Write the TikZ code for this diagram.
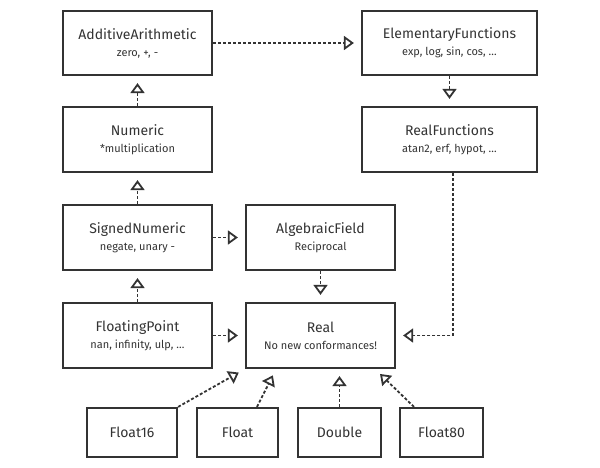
\documentclass[tikz,border=0pt]{standalone}
\usepackage{fontspec}
\setmainfont{Fira Sans}
\usetikzlibrary{arrows.meta}
\definecolor{ink}{HTML}{333333}

\tikzset{
  proto/.style={draw=ink, line width=2.2pt, text=ink, align=center,
    inner sep=0pt, font=\fontsize{14}{17}\selectfont},
  conforms/.style={draw=ink, line width=1.8pt, dash pattern=on 3pt off 2pt,
    -{Triangle[open, length=10pt, width=14pt]}, shorten >=7pt},
}

\newcommand{\subtext}[1]{\\[0pt]{\fontsize{11}{13}\selectfont #1}}

\begin{document}
\begin{tikzpicture}[x=1pt, y=-1pt]
  \useasboundingbox (0, 0) rectangle (600, 468);

  % Left column
  \node [proto, minimum width=149, minimum height=64] (additive) at (137.5, 43)
    {AdditiveArithmetic\subtext{zero, +, -}};
  \node [proto, minimum width=149, minimum height=65] (numeric) at (137.5, 139.5)
    {Numeric\subtext{*multiplication}};
  \node [proto, minimum width=149, minimum height=65] (signed) at (137.5, 237.5)
    {SignedNumeric\subtext{negate, unary -}};
  \node [proto, minimum width=149, minimum height=65] (floating) at (137.5, 335.5)
    {FloatingPoint\subtext{nan, infinity, ulp, \ldots}};

  % Right column
  \node [proto, minimum width=175, minimum height=64] (elementary) at (449.5, 43)
    {ElementaryFunctions\subtext{exp, log, sin, cos, \ldots}};
  \node [proto, minimum width=175, minimum height=65] (realfn) at (449.5, 139.5)
    {RealFunctions\subtext{atan2, erf, hypot, \ldots}};

  % Middle column
  \node [proto, minimum width=149, minimum height=65] (field) at (320.5, 237.5)
    {AlgebraicField\subtext{Reciprocal}};
  \node [proto, minimum width=149, minimum height=65] (real) at (320.5, 335.5)
    {Real\subtext{No new conformances!}};

  % Concrete types
  \node [proto, minimum width=90, minimum height=49] (float16) at (132, 432.5) {Float16};
  \node [proto, minimum width=81, minimum height=49] (float) at (237.5, 432.5) {Float};
  \node [proto, minimum width=83, minimum height=49] (double) at (339.5, 432.5) {Double};
  \node [proto, minimum width=83, minimum height=49] (float80) at (441.5, 432.5) {Float80};

  % Refinements
  \draw [conforms] (additive.east) -- (elementary.west);
  \draw [conforms] (elementary.south) -- (realfn.north);
  \draw [conforms] (numeric.north) -- (additive.south);
  \draw [conforms] (signed.north) -- (numeric.south);
  \draw [conforms] (floating.north) -- (signed.south);
  \draw [conforms] (signed.east) -- (field.west);
  \draw [conforms] (floating.east) -- (real.west);
  \draw [conforms] (field.south) -- (real.north);
  \draw [conforms] ([xshift=3.5pt]realfn.south) |- (real.east);

  % Conformances
  \draw [conforms] (float16.north east) -- (real.south west);
  \draw [conforms] ([xshift=19.5pt]float.north) -- ([xshift=-44.5pt]real.south);
  \draw [conforms] (double.north) -- (double.north |- real.south);
  \draw [conforms] ([xshift=-27.5pt]float80.north) -- ([xshift=54.5pt]real.south);
\end{tikzpicture}
\end{document}
